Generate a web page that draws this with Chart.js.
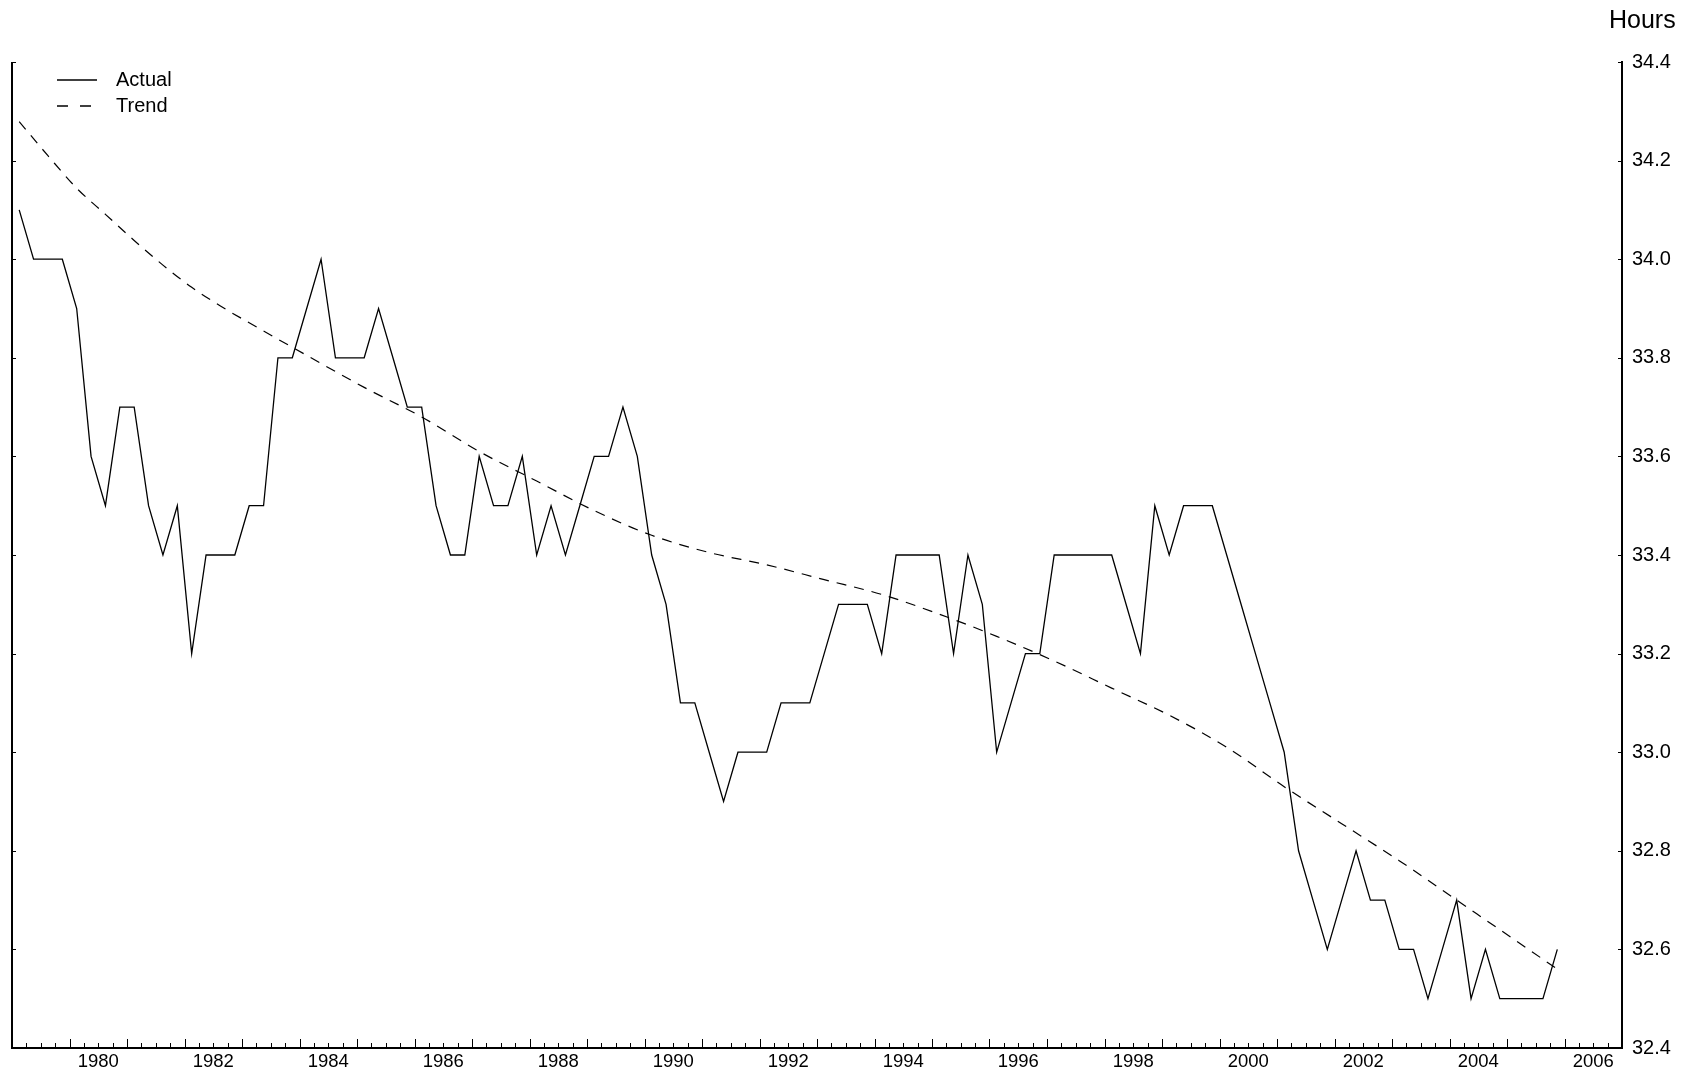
<!DOCTYPE html>
<html>
<head>
<meta charset="utf-8">
<title>Average weekly hours</title>
<script src="https://cdn.jsdelivr.net/npm/chart.js@4.4.1/dist/chart.umd.min.js"></script>
<style>
  html, body { margin: 0; padding: 0; background: #fff; }
  canvas { display: block; }
</style>
</head>
<body>
<canvas id="hoursChart" width="1698" height="1072"></canvas>
<script>
// Quarterly series, 1979Q1 to 2005Q4
const firstYear = 1979;
const actualHours = [
  34.1, 34.0, 34.0, 34.0,   // 1979
  33.9, 33.6, 33.5, 33.7,   // 1980
  33.7, 33.5, 33.4, 33.5,   // 1981
  33.2, 33.4, 33.4, 33.4,   // 1982
  33.5, 33.5, 33.8, 33.8,   // 1983
  33.9, 34.0, 33.8, 33.8,   // 1984
  33.8, 33.9, 33.8, 33.7,   // 1985
  33.7, 33.5, 33.4, 33.4,   // 1986
  33.6, 33.5, 33.5, 33.6,   // 1987
  33.4, 33.5, 33.4, 33.5,   // 1988
  33.6, 33.6, 33.7, 33.6,   // 1989
  33.4, 33.3, 33.1, 33.1,   // 1990
  33.0, 32.9, 33.0, 33.0,   // 1991
  33.0, 33.1, 33.1, 33.1,   // 1992
  33.2, 33.3, 33.3, 33.3,   // 1993
  33.2, 33.4, 33.4, 33.4,   // 1994
  33.4, 33.2, 33.4, 33.3,   // 1995
  33.0, 33.1, 33.2, 33.2,   // 1996
  33.4, 33.4, 33.4, 33.4,   // 1997
  33.4, 33.3, 33.2, 33.5,   // 1998
  33.4, 33.5, 33.5, 33.5,   // 1999
  33.4, 33.3, 33.2, 33.1,   // 2000
  33.0, 32.8, 32.7, 32.6,   // 2001
  32.7, 32.8, 32.7, 32.7,   // 2002
  32.6, 32.6, 32.5, 32.6,   // 2003
  32.7, 32.5, 32.6, 32.5,   // 2004
  32.5, 32.5, 32.5, 32.6    // 2005
];

// Trend (half-yearly early on, then yearly, plus the last quarter)
const trendQuarters = [
  '1979Q1', '1979Q3', '1980Q1', '1980Q3', '1981Q1', '1981Q3', '1982Q1', '1982Q3',
  '1983Q1', '1984Q1', '1985Q1', '1986Q1', '1987Q1', '1988Q1', '1989Q1',
  '1990Q1', '1991Q1', '1992Q1', '1993Q1', '1994Q1', '1995Q1', '1996Q1',
  '1997Q1', '1998Q1', '1999Q1', '2000Q1', '2001Q1', '2002Q1', '2003Q1',
  '2004Q1', '2005Q1', '2005Q4'
];
const trendHours = [
  34.279, 34.21, 34.144, 34.091, 34.038, 33.988, 33.943, 33.905,
  33.871, 33.805, 33.74, 33.68, 33.61, 33.55, 33.49,
  33.44, 33.405, 33.38, 33.35, 33.32, 33.28, 33.235,
  33.185, 33.13, 33.075, 33.01, 32.93, 32.855, 32.78,
  32.70, 32.62, 32.56
];

const yearLabels = [1980, 1982, 1984, 1986, 1988, 1990, 1992, 1994, 1996, 1998, 2000, 2002, 2004, 2006];
const hourTicks = [32.4, 32.6, 32.8, 33.0, 33.2, 33.4, 33.6, 33.8, 34.0, 34.2, 34.4];

const quarters = actualHours.map((v, i) => (firstYear + Math.floor(i / 4)) + 'Q' + (i % 4 + 1));

// '1985Q3' -> 1985.625, the middle of the quarter
function quarterToX(q) {
  const year = parseInt(q.slice(0, 4), 10);
  const n = parseInt(q.slice(5), 10);
  return year + (n - 0.5) / 4;
}

const fontFamily = '"Liberation Sans", Arial, Helvetica, sans-serif';

// Inside tick marks, left axis line, legend and unit label
const axisMarks = {
  id: 'axisMarks',
  afterDraw(chart) {
    const { ctx, chartArea: a, scales: { x, y } } = chart;
    ctx.save();
    ctx.strokeStyle = '#000';
    ctx.fillStyle = '#000';

    ctx.lineWidth = 2;
    ctx.beginPath();
    ctx.moveTo(a.left, a.top);
    ctx.lineTo(a.left, a.bottom + 1);
    ctx.stroke();

    ctx.lineWidth = 1;
    ctx.beginPath();
    for (let q = Math.round(x.min * 4); q <= Math.round(x.max * 4); q++) {
      const px = Math.round(x.getPixelForValue(q / 4)) + 0.5;
      const len = q % 4 === 0 ? 9 : 5;
      ctx.moveTo(px, a.bottom);
      ctx.lineTo(px, a.bottom - len);
    }
    hourTicks.forEach(v => {
      const py = Math.round(y.getPixelForValue(v)) + 0.5;
      ctx.moveTo(a.left, py);
      ctx.lineTo(a.left + 4, py);
      ctx.moveTo(a.right, py);
      ctx.lineTo(a.right - 4, py);
    });
    ctx.stroke();

    // legend
    ctx.lineWidth = 1.3;
    ctx.beginPath();
    ctx.moveTo(57, 80);
    ctx.lineTo(97, 80);
    ctx.stroke();
    ctx.setLineDash([11, 12]);
    ctx.beginPath();
    ctx.moveTo(57, 106);
    ctx.lineTo(97, 106);
    ctx.stroke();
    ctx.setLineDash([]);

    ctx.font = '20px ' + fontFamily;
    ctx.textAlign = 'left';
    ctx.textBaseline = 'middle';
    ctx.fillText('Actual', 116, 80);
    ctx.fillText('Trend', 116, 106);

    ctx.font = '25px ' + fontFamily;
    ctx.fillText('Hours', 1609, 21);
    ctx.restore();
  }
};

new Chart(document.getElementById('hoursChart'), {
  type: 'line',
  data: {
    datasets: [
      {
        label: 'Actual',
        data: quarters.map((q, i) => ({ x: quarterToX(q), y: actualHours[i] })),
        borderColor: '#000',
        borderWidth: 1.3,
        pointRadius: 0,
        tension: 0
      },
      {
        label: 'Trend',
        data: trendQuarters.map((q, i) => ({ x: quarterToX(q), y: trendHours[i] })),
        borderColor: '#000',
        borderWidth: 1.2,
        borderDash: [10, 8],
        pointRadius: 0,
        cubicInterpolationMode: 'monotone'
      }
    ]
  },
  options: {
    responsive: false,
    animation: false,
    layout: { padding: { top: 62, left: 12, right: 0, bottom: 0 } },
    plugins: {
      legend: { display: false },
      tooltip: { enabled: false }
    },
    scales: {
      x: {
        type: 'linear',
        min: 1979,
        max: 2007,
        grid: { display: false, drawTicks: false },
        border: { display: true, color: '#000', width: 2 },
        afterBuildTicks: scale => {
          scale.ticks = yearLabels.map(yr => ({ value: yr + 0.5 }));
        },
        afterFit: scale => { scale.height = 24; },
        ticks: {
          autoSkip: false,
          maxRotation: 0,
          padding: 3,
          color: '#000',
          font: { family: fontFamily, size: 18.5 },
          callback: v => String(Math.floor(v))
        }
      },
      y: {
        position: 'right',
        min: 32.4,
        max: 34.4,
        grid: { display: false, drawTicks: false },
        border: { display: true, color: '#000', width: 2 },
        afterBuildTicks: scale => {
          scale.ticks = hourTicks.map(v => ({ value: v }));
        },
        afterFit: scale => { scale.width = 76; },
        ticks: {
          padding: 10,
          color: '#000',
          font: { family: fontFamily, size: 20 },
          callback: v => v.toFixed(1)
        }
      }
    }
  },
  plugins: [axisMarks]
});
</script>
</body>
</html>
